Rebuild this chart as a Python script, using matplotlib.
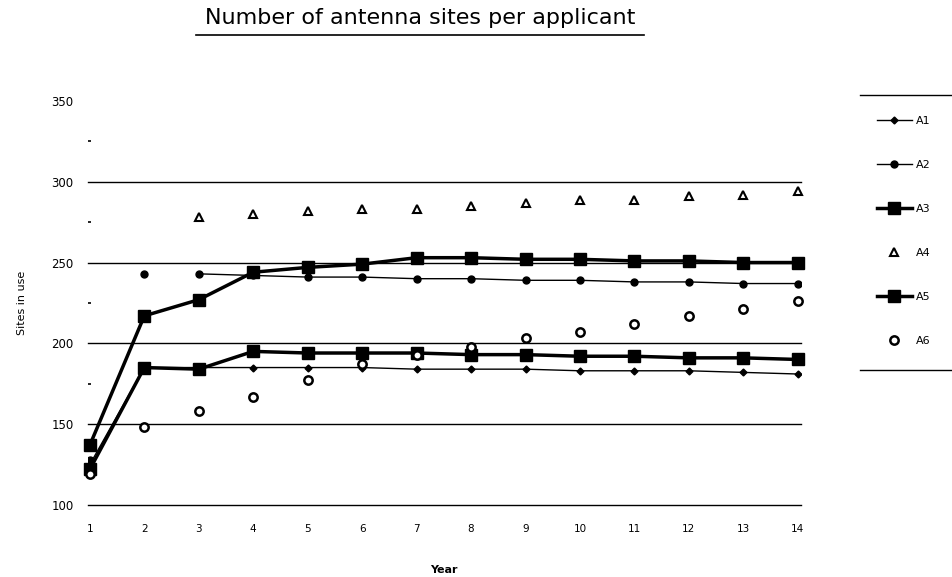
import matplotlib.pyplot as plt
from matplotlib.lines import Line2D

years = list(range(1, 15))

a1 = [125, 185, 185, 185, 185, 185, 184, 184, 184, 183, 183, 183, 182, 181]
a2 = [128, 243, 243, 242, 241, 241, 240, 240, 239, 239, 238, 238, 237, 237]
a3 = [137, 217, 227, 244, 247, 249, 253, 253, 252, 252, 251, 251, 250, 250]
a4_years = list(range(3, 15))
a4 = [278, 280, 282, 283, 283, 285, 287, 289, 289, 291, 292, 294]
a5 = [122, 185, 184, 195, 194, 194, 194, 193, 193, 192, 192, 191, 191, 190]
a6 = [119, 148, 158, 167, 177, 187, 193, 198, 203, 207, 212, 217, 221, 226]

y_ticks = [100, 150, 200, 250, 300, 350]

fig = plt.figure(figsize=(9.53, 5.77), dpi=100)
ax = fig.add_axes([0.092, 0.125, 0.748, 0.70])

# grid lines (no line at the top value)
for v in y_ticks[:-1]:
    ax.axhline(v, color="black", lw=1.0, zorder=1, clip_on=False)

# A1 - thin line, small diamonds
ax.plot(years, a1, color="black", lw=1.0, marker="D", ms=3.5, zorder=3)
# A2 - dots, line only from year 3
ax.plot(years[:2], a2[:2], ls="none", color="black", marker="o", ms=5, zorder=3)
ax.plot(years[2:], a2[2:], color="black", lw=1.0, marker="o", ms=5, zorder=3)
# A3 / A5 - heavy lines with big squares
ax.plot(years, a3, color="black", lw=2.5, marker="s", ms=9, zorder=4, clip_on=False)
ax.plot(years, a5, color="black", lw=2.5, marker="s", ms=9, zorder=4, clip_on=False)
# A4 - open triangles
ax.plot(a4_years, a4, ls="none", marker="^", ms=6, mfc="white", mec="black",
        mew=1.5, zorder=5, clip_on=False)
# A6 - open circles
ax.plot(years, a6, ls="none", marker="o", ms=6, mfc="white", mec="black",
        mew=1.8, zorder=5, clip_on=False)

ax.set_xlim(0.96, 14.05)
ax.set_ylim(100, 350)
ax.set_xticks(years)
ax.set_yticks(y_ticks)
ax.set_yticks([125, 175, 225, 275, 325], minor=True)
ax.tick_params(axis="x", length=0, labelsize=7.5, pad=14)
ax.tick_params(axis="y", which="major", length=0, labelsize=8.5, pad=10)
ax.tick_params(axis="y", which="minor", length=2, width=1.2, direction="in")
for s in ax.spines.values():
    s.set_visible(False)

ax.set_xlabel("Year", fontsize=8, fontweight="bold", labelpad=22)
ax.set_ylabel("Sites in use", fontsize=8, labelpad=18)

# title with underline
fig.text(0.441, 0.968, "Number of antenna sites per applicant", ha="center",
         va="center", fontsize=16)
fig.add_artist(Line2D([0.206, 0.676], [0.940, 0.940], color="black", lw=1.2))

# legend
handles = [
    Line2D([], [], color="black", lw=1.0, marker="D", ms=3.5),
    Line2D([], [], color="black", lw=1.0, marker="o", ms=5),
    Line2D([], [], color="black", lw=2.5, marker="s", ms=9),
    Line2D([], [], ls="none", marker="^", ms=6, mfc="white", mec="black", mew=1.5),
    Line2D([], [], color="black", lw=2.5, marker="s", ms=9),
    Line2D([], [], ls="none", marker="o", ms=6, mfc="white", mec="black", mew=1.8),
]
labels = ["A1", "A2", "A3", "A4", "A5", "A6"]
fig.legend(handles, labels, loc="center", bbox_to_anchor=(0.948, 0.6),
           frameon=False, fontsize=8, labelspacing=3.05, handlelength=3.2,
           handletextpad=0.3)
fig.add_artist(Line2D([0.902, 0.998], [0.835, 0.835], color="black", lw=1.0))
fig.add_artist(Line2D([0.902, 0.998], [0.359, 0.359], color="black", lw=1.0))

fig.savefig("out.png", dpi=100)
